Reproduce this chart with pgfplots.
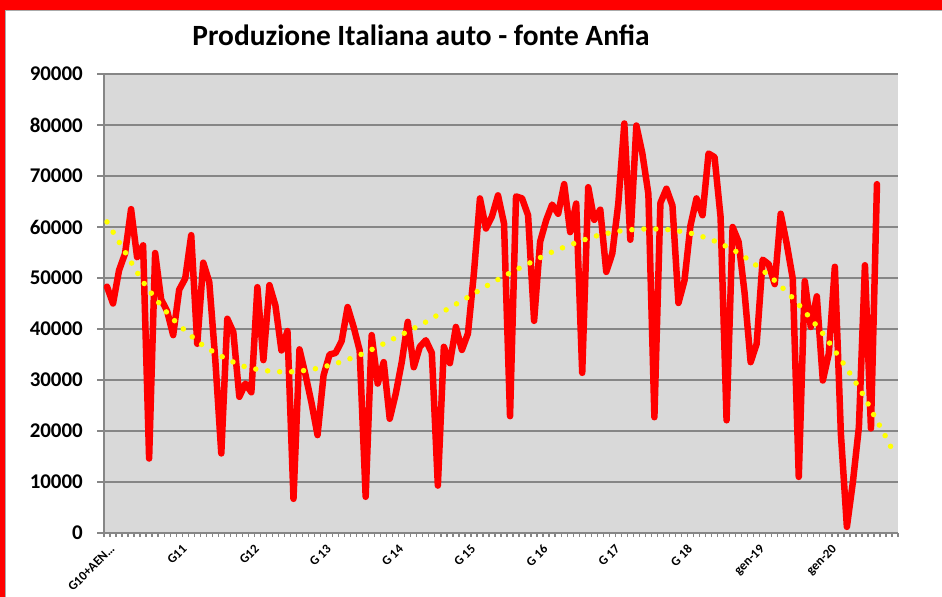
\documentclass[border=0pt]{standalone}
\usepackage{pgfplots}
\pgfplotsset{compat=1.18}
\usepackage{fontspec}
\setmainfont{Carlito}
\definecolor{gridgray}{RGB}{134,134,134}
\definecolor{plotbg}{RGB}{217,217,217}
\definecolor{trendyel}{RGB}{255,255,0}
\pgfplotstableread{
i v
0 48300
1 45000
2 51500
3 54800
4 63500
5 54100
6 56400
7 14600
8 54900
9 45800
10 43500
11 38800
12 47700
13 49900
14 58400
15 37100
16 53000
17 49200
18 34000
19 15600
20 42000
21 39400
22 26700
23 29300
24 27600
25 48200
26 33900
27 48600
28 44600
29 35800
30 39600
31 6700
32 36000
33 31000
34 25500
35 19200
36 30900
37 35000
38 35300
39 37600
40 44300
41 40400
42 35800
43 7100
44 38800
45 29300
46 33500
47 22400
48 27300
49 33500
50 41400
51 32500
52 36500
53 37800
54 35300
55 9300
56 36500
57 33300
58 40400
59 35900
60 39100
61 51000
62 65600
63 59700
64 62100
65 66200
66 60700
67 22900
68 66000
69 65600
70 62300
71 41600
72 57100
73 61300
74 64400
75 62600
76 68400
77 59000
78 64600
79 31400
80 67800
81 61400
82 63400
83 51200
84 54800
85 64600
86 80300
87 57500
88 79900
89 74400
90 66500
91 22700
92 64700
93 67500
94 64200
95 45100
96 49500
97 60300
98 65600
99 62300
100 74400
101 73700
102 62000
103 22100
104 60000
105 57100
106 47000
107 33500
108 37100
109 53600
110 52700
111 48800
112 62600
113 56700
114 49900
115 11000
116 49400
117 40400
118 46400
119 29900
120 35200
121 52200
122 19500
123 1200
124 10000
125 20800
126 52500
127 20500
128 68400
}\proddata
\pgfplotstableread{
i v
0 61000
3.1 54900
6.2 48900
9.9 43300
12.7 40000
15.7 37000
19.1 34600
22.7 32700
26.6 31800
30.5 31600
34.6 32200
38.5 33400
42.2 35000
45.8 37000
49.3 39100
52.9 41300
56.3 43700
59.8 46100
63.2 48500
66.7 50800
70.2 52900
73.8 55000
77.5 56700
81.2 58200
85.2 59200
89.1 59600
93.1 59500
97.3 58700
101.1 57200
104.7 55100
107.9 52500
111.0 49500
113.9 46200
116.5 42700
119.0 39100
121.3 35200
123.5 31300
125.6 27300
127.5 23100
129.4 19000
130.3 16900
}\trenddata
\begin{document}
\begin{tikzpicture}[x=1bp,y=1bp]
\path[use as bounding box] (0,0) rectangle (942,597);
\fill[white] (0,0) rectangle (942,597);
\begin{axis}[
  at={(104bp,64bp)}, anchor=south west,
  scale only axis, width=794bp, height=459bp,
  xmin=-0.5, xmax=131.5, ymin=0, ymax=90000,
  axis background/.style={fill=plotbg},
  axis x line=bottom, axis y line=left,
  axis line style={-, draw=gridgray, line width=1.5bp},
  ytick={0,10000,...,90000},
  scaled y ticks=false,
  ymajorgrids,
  grid style={draw=gridgray, line width=1.8bp},
  xtick={-0.5,0.5,...,131.5},
  xticklabels={},
  extra x ticks={0,12,...,120},
  extra x tick labels={\llap{G10+AEN\ldots},\llap{G11},\llap{G12},\llap{G 13},\llap{G 14},\llap{G 15},\llap{G 16},\llap{G 17},\llap{G 18},\llap{gen-19},\llap{gen-20}},
  extra x tick style={major tick length=0pt, grid=none,
     xticklabel style={font=\bfseries\fontsize{13}{13}\selectfont, rotate=45, anchor=north, inner sep=0pt, xshift=-6bp, yshift=-9bp}},
  extra y ticks={0,10000,...,90000},
  extra y tick labels={},
  extra y tick style={major tick length=7bp, grid=none},
  tick align=outside,
  major tick length=4bp,
  tick style={draw=gridgray, line width=1.3bp},
  /pgf/number format/1000 sep={},
  /pgf/number format/assume math mode=true,
  yticklabel style={font=\bfseries\fontsize{21}{21}\selectfont, anchor=east, inner sep=0pt, xshift=-17bp},
  clip=false,
]
\addplot[red, line width=6.5bp, line join=round, line cap=round, no markers] table[x=i,y=v] {\proddata};
\addplot[trendyel, line width=5.5bp, line cap=round, dash pattern=on 0bp off 12bp, smooth, no markers] table[x=i,y=v] {\trenddata};
\end{axis}
\node[font=\bfseries\fontsize{29.5}{32}\selectfont] at (421,562) {Produzione Italiana auto - fonte Anfia};
\fill[red] (0,587) rectangle (942,597);
\fill[red] (0,0) rectangle (5,597);
\draw[gridgray!70, line width=1.2bp] (5.6,0) -- (5.6,586.4) -- (942,586.4);
\end{tikzpicture}
\end{document}
